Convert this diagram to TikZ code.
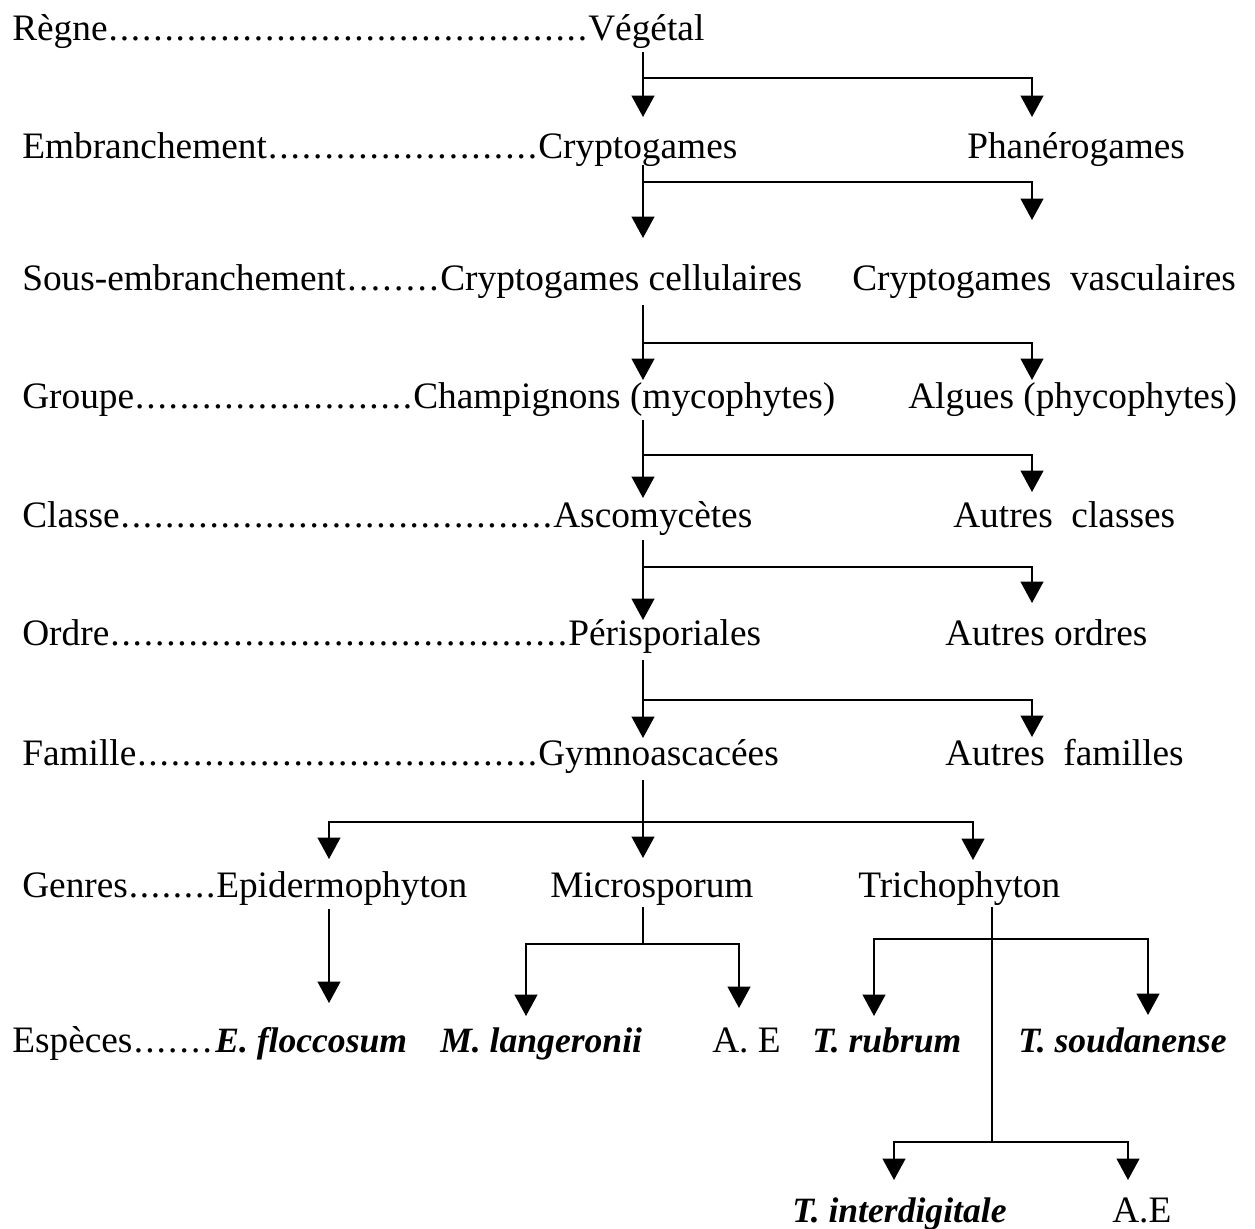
\documentclass[tikz,border=0pt]{standalone}
\usepackage{fontspec}
\setmainfont{Liberation Serif}
\usetikzlibrary{arrows.meta,calc}
\newdimen\px \px=0.75pt
\newcommand\mydots{\xleaders\hbox to 11\px{\hss.\hss}\hfill}
\begin{document}
\begin{tikzpicture}[x=0.75pt,y=-0.75pt,
  txt/.style={anchor=base west, inner sep=0pt, font=\fontsize{28}{30}\selectfont},
  species/.style={txt, font=\fontsize{26.7}{30}\selectfont\bfseries\itshape},
  ln/.style={line width=1.5pt},
  arr/.style={ln, -{Triangle[width=17pt,length=16pt]}}]
\fill[white] (0,0) rectangle (1255,1228);
\useasboundingbox (0,0) rectangle (1255,1228);

% rows
\node[txt] (l1) at (12,40) {\hbox to 576\px{Règne\mydots}};
\node[txt] (veg) at (588,40) {Végétal};
\node[txt] (l2) at (22,158) {\hbox to 516\px{Embranchement\mydots}};
\node[txt] (cry) at (538,158) {Cryptogames};
\node[txt] (pha) at (967,158) {Phanérogames};
\node[txt] (l3) at (22,290) {\hbox to 418\px{Sous-embranchement\mydots}};
\node[txt] (ccel) at (440,290) {Cryptogames cellulaires};
\node[txt] (cvas) at (852,290) {Cryptogames\ \ vasculaires};
\node[txt] (l4) at (22,408) {\hbox to 391\px{Groupe\mydots}};
\node[txt] (cha) at (413,408) {Champignons (mycophytes)};
\node[txt] (alg) at (908,408) {Algues (phycophytes)};
\node[txt] (l5) at (22,527) {\hbox to 531\px{Classe\mydots}};
\node[txt] (asc) at (553,527) {Ascomycètes};
\node[txt] (acl) at (953,527) {Autres\ \ classes};
\node[txt] (l6) at (22,645) {\hbox to 546\px{Ordre\mydots}};
\node[txt] (per) at (568,645) {Périsporiales};
\node[txt] (aor) at (945,645) {Autres ordres};
\node[txt] (l7) at (22,765) {\hbox to 516\px{Famille\mydots}};
\node[txt] (gym) at (538,765) {Gymnoascacées};
\node[txt] (afa) at (945,765) {Autres\ \ familles};
\node[txt] (l8) at (22,897) {\hbox to 194\px{Genres\mydots}};
\node[txt] (epi) at (216,897) {Epidermophyton};
\node[txt] (mic) at (550,897) {Microsporum};
\node[txt] (tri) at (858,897) {Trichophyton};
\node[txt] (l9) at (12,1052) {\hbox to 201\px{Espèces\mydots}};
\node[species] (efl) at (215,1052) {E. floccosum};
\node[species] (mla) at (440,1052) {M. langeronii};
\node[txt] (ae1) at (712,1052) {A. E};
\node[species] (tru) at (812,1052) {T. rubrum};
\node[species] (tso) at (1018,1052) {T. soudanense};
\node[species] (tin) at (792,1222) {T. interdigitale};
\node[txt] (ae2) at (1112,1222) {A.E};

% x positions of connectors
\coordinate (sp) at (643,0);
\coordinate (rt) at (1032,0);
\coordinate (xe) at (329,0);
\coordinate (xt) at (973,0);
\coordinate (xml) at (526,0);
\coordinate (xmr) at (739,0);
\coordinate (xtr) at (992,0);
\coordinate (xtl) at (874,0);
\coordinate (xtrr) at (1148,0);
\coordinate (xil) at (894,0);
\coordinate (xir) at (1128,0);

% connectors
\draw[arr] ($(veg.base -| sp)+(0,12)$) -- ($(cry.base -| sp)+(0,-41)$);
\draw[arr] ($(veg.base -| sp)+(0,38)$) -| ($(pha.base -| rt)+(0,-41)$);

\draw[arr] ($(cry.base -| sp)+(0,7)$) -- ($(ccel.base -| sp)+(0,-52)$);
\draw[arr] ($(cry.base -| sp)+(0,24)$) -| ($(cvas.base -| rt)+(0,-70)$);

\draw[arr] ($(ccel.base -| sp)+(0,15)$) -- ($(cha.base -| sp)+(0,-28)$);
\draw[arr] ($(ccel.base -| sp)+(0,53)$) -| ($(alg.base -| rt)+(0,-28)$);

\draw[arr] ($(cha.base -| sp)+(0,12)$) -- ($(asc.base -| sp)+(0,-29)$);
\draw[arr] ($(cha.base -| sp)+(0,47)$) -| ($(acl.base -| rt)+(0,-35)$);

\draw[arr] ($(asc.base -| sp)+(0,13)$) -- ($(per.base -| sp)+(0,-25)$);
\draw[arr] ($(asc.base -| sp)+(0,40)$) -| ($(aor.base -| rt)+(0,-42)$);

\draw[arr] ($(per.base -| sp)+(0,15)$) -- ($(gym.base -| sp)+(0,-27)$);
\draw[arr] ($(per.base -| sp)+(0,55)$) -| ($(afa.base -| rt)+(0,-28)$);

\draw[arr] ($(gym.base -| sp)+(0,15)$) -- ($(mic.base -| sp)+(0,-39)$);
\draw[arr] ($(gym.base -| sp)+(0,57)$) -| ($(epi.base -| xe)+(0,-38)$);
\draw[arr] ($(gym.base -| sp)+(0,57)$) -| ($(tri.base -| xt)+(0,-37)$);

\draw[arr] ($(epi.base -| xe)+(0,12)$) -- ($(efl.base -| xe)+(0,-49)$);
\draw[ln] ($(mic.base -| sp)+(0,10)$) -- ($(mic.base -| sp)+(0,47)$) coordinate (mj);
\draw[arr] (mj) -| ($(mla.base -| xml)+(0,-36)$);
\draw[arr] (mj) -| ($(ae1.base -| xmr)+(0,-44)$);

\draw[ln] ($(tri.base -| xtr)+(0,10)$) -- ($(tri.base -| xtr)+(0,245)$) coordinate (tj2);
\coordinate (tj1) at ($(tri.base -| xtr)+(0,42)$);
\draw[arr] (tj1) -| ($(tru.base -| xtl)+(0,-36)$);
\draw[arr] (tj1) -| ($(tso.base -| xtrr)+(0,-37)$);
\draw[arr] (tj2) -| ($(tin.base -| xil)+(0,-42)$);
\draw[arr] (tj2) -| ($(ae2.base -| xir)+(0,-42)$);
\end{tikzpicture}
\end{document}
